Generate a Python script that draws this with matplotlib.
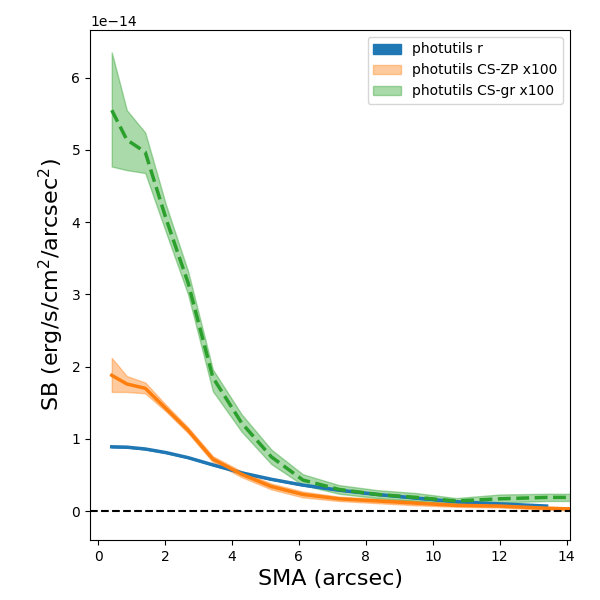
import matplotlib
matplotlib.use("Agg")
import matplotlib.pyplot as plt
import numpy as np

sma = np.array([0.41, 0.86, 1.41, 2.03, 2.69, 3.43, 4.29, 5.18, 6.12, 7.2, 8.35, 9.5, 10.7, 12.0, 13.4, 14.9])

# photutils r (units of 1e-14)
r_sma = sma[:15]
r_sb = np.array([0.89, 0.885, 0.86, 0.81, 0.74, 0.64, 0.53, 0.44, 0.36, 0.29, 0.23, 0.18, 0.13, 0.10, 0.07])

# CS-ZP x100
zp_sb = np.array([1.88, 1.76, 1.70, 1.42, 1.12, 0.72, 0.51, 0.34, 0.23, 0.17, 0.14, 0.11, 0.08, 0.07, 0.04, 0.02])
zp_lo = np.array([1.65, 1.65, 1.63, 1.38, 1.08, 0.68, 0.47, 0.30, 0.19, 0.14, 0.11, 0.08, 0.06, 0.05, 0.02, 0.00])
zp_hi = np.array([2.12, 1.87, 1.78, 1.47, 1.16, 0.76, 0.55, 0.38, 0.27, 0.20, 0.17, 0.14, 0.10, 0.09, 0.06, 0.04])

# CS-gr x100
gr_sb = np.array([5.55, 5.14, 4.97, 4.05, 3.16, 1.85, 1.22, 0.75, 0.43, 0.30, 0.23, 0.19, 0.14, 0.17, 0.19, 0.19])
gr_lo = np.array([4.77, 4.72, 4.68, 3.86, 3.00, 1.66, 1.10, 0.65, 0.36, 0.24, 0.18, 0.14, 0.10, 0.12, 0.14, 0.14])
gr_hi = np.array([6.35, 5.55, 5.24, 4.24, 3.32, 1.96, 1.34, 0.85, 0.51, 0.36, 0.29, 0.25, 0.18, 0.23, 0.24, 0.24])

scale = 1e-14

fig = plt.figure(figsize=(6, 6), dpi=100)
ax = fig.add_axes([0.15, 0.1, 0.8, 0.85])

ax.plot(r_sma, r_sb * scale, color='C0', lw=2.5)
ax.fill_between(r_sma, (r_sb - 0.005) * scale, (r_sb + 0.005) * scale, color='C0', alpha=1.0, label='photutils r')

ax.plot(sma, zp_sb * scale, color='C1', lw=2.5)
ax.fill_between(sma, zp_lo * scale, zp_hi * scale, color='C1', alpha=0.4, label='photutils CS-ZP x100')

ax.plot(sma, gr_sb * scale, color='C2', lw=2.5, ls='--')
ax.fill_between(sma, gr_lo * scale, gr_hi * scale, color='C2', alpha=0.4, label='photutils CS-gr x100')

ax.axhline(0, color='k', ls='--', lw=1.5)

ax.set_xlim(-0.24, 14.1)
ax.set_ylim(-0.40e-14, 6.66e-14)
ax.set_xlabel('SMA (arcsec)', fontsize=16)
ax.set_ylabel('SB (erg/s/cm$^2$/arcsec$^2$)', fontsize=16)
ax.legend(loc='upper right')

fig.savefig('out.png', dpi=100)
